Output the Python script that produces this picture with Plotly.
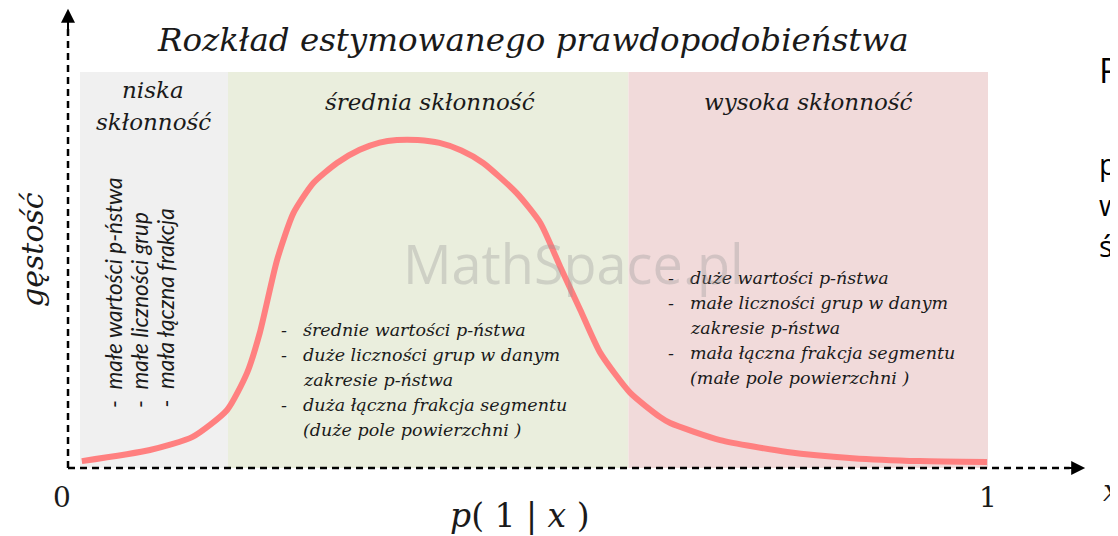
import plotly.graph_objects as go

# density curve (x = p(1|x), y = relative density)
curve_x = [0.002, 0.077, 0.124, 0.162, 0.184, 0.198, 0.217, 0.235, 0.257, 0.283,
           0.308, 0.330, 0.349, 0.372, 0.396, 0.420, 0.444, 0.481, 0.507, 0.529,
           0.551, 0.573, 0.606, 0.639, 0.650, 0.705, 0.779, 0.851, 0.925, 0.999]
curve_y = [0.021, 0.055, 0.095, 0.177, 0.290, 0.412, 0.634, 0.777, 0.869, 0.930,
           0.970, 0.992, 1.000, 1.000, 0.991, 0.968, 0.930, 0.838, 0.747, 0.613,
           0.482, 0.351, 0.229, 0.155, 0.137, 0.085, 0.049, 0.030, 0.021, 0.018]

# segment boundaries along p(1|x)
bounds = [0.0, 0.163, 0.604, 1.0]
region_top = 1.207
region_colors = ["rgb(240,240,240)", "rgb(234,238,221)", "rgb(241,218,218)"]

title = "Rozkład estymowanego prawdopodobieństwa"
region_names = ["niska<br>skłonność", "średnia skłonność", "wysoka skłonność"]
low_notes = ["-  małe wartości p-ństwa", "-  małe liczności grup", "-  mała łączna frakcja"]
mid_notes = ["średnie wartości p-ństwa", "duże liczności grup w danym", "zakresie p-ństwa",
             "duża łączna frakcja segmentu", "(duże pole powierzchni )"]
mid_dash = [True, True, False, True, False]
high_notes = ["duże wartości p-ństwa", "małe liczności grup w danym", "zakresie p-ństwa",
              "mała łączna frakcja segmentu", "(małe pole powierzchni )"]
high_dash = [True, True, False, True, False]

# the page body has an 8px margin, so the figure is a bit smaller than the window
OFF = 8
W, H = 1118 - OFF, 536 - OFF
X0, XS = 80 - OFF, 908     # pixel of p=0, pixels per unit
Y0, YS = 468 - OFF, 328    # pixel of density 0, pixels per unit


def px(x):
    return (x - OFF) / W


def py(y):
    return 1 - (y - OFF) / H


SERIF = "DejaVu Serif"
fig = go.Figure()

for i, c in enumerate(region_colors):
    fig.add_shape(type="rect", x0=bounds[i], x1=bounds[i + 1], y0=0, y1=region_top,
                  fillcolor=c, line_width=0, layer="below")

fig.add_trace(go.Scatter(x=curve_x, y=curve_y, mode="lines",
                         line=dict(color="#ff8080", width=6, shape="spline", smoothing=0.6),
                         hoverinfo="skip", showlegend=False))

# dashed axes
ax_x = -0.0132
fig.add_shape(type="line", x0=ax_x, x1=ax_x, y0=0, y1=1.34,
              line=dict(color="black", width=2.5, dash="7px,5px"))
fig.add_shape(type="line", x0=ax_x, x1=1.09, y0=0, y1=0,
              line=dict(color="black", width=2.5, dash="7px,5px"))

anns = []
# arrow heads
anns.append(dict(x=ax_x, y=1.40, xref="x", yref="y", ax=0, ay=22, text="", showarrow=True,
                 arrowhead=2, arrowsize=1.4, arrowwidth=2, arrowcolor="black"))
anns.append(dict(x=1.107, y=0, xref="x", yref="y", ax=-22, ay=0, text="", showarrow=True,
                 arrowhead=2, arrowsize=1.4, arrowwidth=2, arrowcolor="black"))

ital = dict(family=SERIF, style="italic", color="#1a1a1a")

anns.append(dict(x=px(533), y=py(40), text=title, font=dict(size=32.5, **ital)))
anns.append(dict(x=px(153), y=py(90), text="niska", font=dict(size=23, **ital)))
anns.append(dict(x=px(153), y=py(122), text="skłonność", font=dict(size=23, **ital)))
anns.append(dict(x=px(430), y=py(102), text=region_names[1], font=dict(size=23, **ital)))
anns.append(dict(x=px(808), y=py(102), text=region_names[2], font=dict(size=23, **ital)))

for k, t in enumerate(low_notes):
    anns.append(dict(x=px(113 + 26 * k), y=py(410), text=t, textangle=-90, yanchor="bottom",
                     font=dict(family="Lato", style="italic", size=22.5, color="#1a1a1a")))

for k, t in enumerate(mid_notes):
    yy = py(330 + 25 * k)
    anns.append(dict(x=px(301), y=yy, text=t, xanchor="left", font=dict(size=17.5, **ital)))
    if mid_dash[k]:
        anns.append(dict(x=px(284), y=yy, text="-", font=dict(size=17.5, **ital)))

for k, t in enumerate(high_notes):
    yy = py(278 + 25 * k)
    anns.append(dict(x=px(688), y=yy, text=t, xanchor="left", font=dict(size=17.5, **ital)))
    if high_dash[k]:
        anns.append(dict(x=px(671), y=yy, text="-", font=dict(size=17.5, **ital)))

anns.append(dict(x=px(573), y=py(263), text="MathSpace.pl",
                 font=dict(family="Open Sans", size=54, color="rgba(150,150,150,0.33)")))

anns.append(dict(x=px(33), y=py(250), text="gęstość", textangle=-90, font=dict(size=30, **ital)))
anns.append(dict(x=px(62), y=py(497), text="0", font=dict(family=SERIF, size=28, color="#1a1a1a")))
anns.append(dict(x=px(988), y=py(497), text="1", font=dict(family=SERIF, size=28, color="#1a1a1a")))
anns.append(dict(x=px(520), y=py(515), text="<i>p</i>( 1 | <i>x</i> )",
                 font=dict(family=SERIF, size=33, color="#1a1a1a")))
anns.append(dict(x=px(1101), y=py(490), text="x", xanchor="left", font=dict(size=30, **ital)))

for t, yy, sz in zip(["P", "p", "w", "ś"], [70, 163, 204, 245], [34, 29, 29, 29]):
    anns.append(dict(x=px(1097), y=py(yy), text=t, xanchor="left",
                     font=dict(family="Open Sans", size=sz, color="black")))

for a in anns:
    a.setdefault("xref", "paper")
    a.setdefault("yref", "paper")
    a.setdefault("showarrow", False)
    a.setdefault("xanchor", "center")
    a.setdefault("yanchor", "middle")

fig.update_layout(
    width=W, height=H, margin=dict(l=0, r=0, t=0, b=0),
    paper_bgcolor="white", plot_bgcolor="white",
    xaxis=dict(range=[-X0 / XS, (W - X0) / XS], visible=False, fixedrange=True),
    yaxis=dict(range=[(Y0 - H) / YS, Y0 / YS], visible=False, fixedrange=True),
    annotations=anns, showlegend=False,
)

fig.write_html("out.html", config={"displayModeBar": False})
